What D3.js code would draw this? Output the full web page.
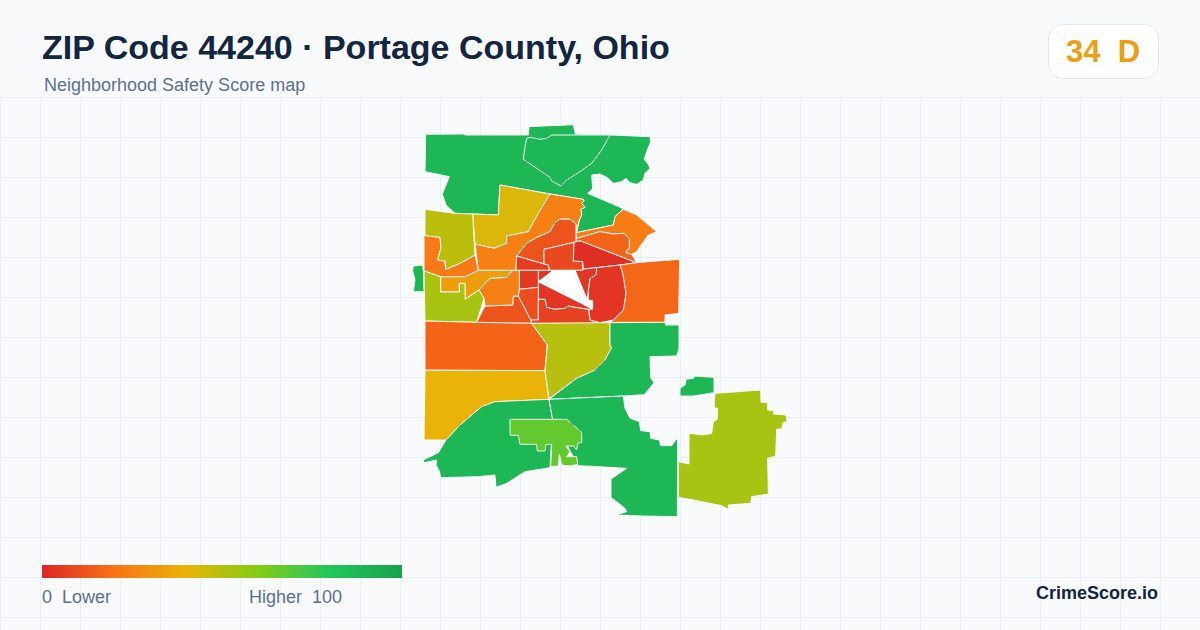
<!DOCTYPE html>
<html><head><meta charset="utf-8">
<script src="https://cdn.jsdelivr.net/npm/d3@7/dist/d3.min.js"></script>
<style>html,body{margin:0;padding:0;background:#f8fafc}svg{display:block}text{font-family:"Liberation Sans",Arial,sans-serif;white-space:pre}</style>
</head><body><svg id="c" width="1200" height="630"></svg>
<script>
// Map units: one third of a screen pixel, measured from the map frame.
const northWest=[[47,43],[162,42],[165,45],[355,45],[357,20],[490,14],[496,42],[600,45],[720,50],[722,65],[708,100],[703,118],[716,135],[720,145],[705,160],[700,180],[680,193],[660,188],[648,175],[635,185],[610,190],[595,175],[570,162],[545,165],[548,205],[533,220],[640,266],[615,290],[610,315],[500,338],[508,300],[515,285],[512,268],[525,262],[515,250],[522,243],[520,238],[420,222],[270,195],[265,285],[190,282],[135,280],[108,255],[97,222],[118,170],[45,155]];
const northInner=[[350,55],[360,52],[390,58],[410,55],[425,45],[600,45],[575,90],[545,130],[510,155],[470,180],[453,198],[425,183],[420,172],[340,118],[345,80]];
const topYellow=[[270,195],[420,222],[385,280],[355,335],[290,348],[290,370],[252,385],[195,372],[188,282],[265,285]];
const topOrange=[[420,222],[520,238],[522,243],[515,250],[525,262],[512,268],[515,285],[508,300],[498,338],[498,312],[480,298],[450,297],[435,308],[420,335],[385,350],[350,370],[320,408],[318,451],[305,451],[205,451],[195,372],[252,385],[290,370],[290,348],[355,335],[385,280]];
const centerNorth=[[450,297],[480,298],[498,312],[498,365],[492,367],[402,388],[402,432],[320,408],[350,370],[385,350],[420,335],[435,308]];
const centerBlock=[[402,388],[492,367],[490,423],[518,425],[518,451],[418,451],[415,435],[402,432]];
const redWedge=[[492,367],[510,362],[680,428],[630,435],[560,443],[520,447],[518,425],[490,423]];
const centerWest=[[320,408],[402,432],[415,435],[418,451],[318,451]];
const eastFringe=[[640,268],[680,285],[710,310],[740,335],[715,345],[700,365],[680,395],[665,403],[645,397],[658,385],[658,355],[640,340],[610,342],[570,335],[500,355],[498,338],[610,315],[615,290]];
const eastInner=[[500,355],[570,335],[610,342],[640,340],[658,355],[658,385],[645,397],[665,403],[680,428],[510,362],[498,365]];
const eastOrange=[[680,428],[630,435],[638,460],[648,520],[640,570],[610,600],[600,607],[765,607],[765,585],[806,580],[809,418],[715,425]];
const eastRed=[[560,443],[630,435],[638,460],[648,520],[640,570],[610,600],[570,608],[540,600],[535,560],[535,510],[540,475],[558,465]];
const holeRing=[[495,451],[518,451],[520,447],[560,443],[558,465],[540,475],[535,510],[532,540],[515,500]];
const holeWest=[[385,451],[430,451],[402,478],[385,485]];
const holeSouth=[[385,485],[515,550],[548,568],[535,568],[495,562],[475,558],[465,565],[435,568],[410,562],[405,538],[385,538]];
const noData=[[385,485],[430,451],[495,451],[515,500],[532,540],[548,542],[548,568],[515,550]];
const boxWest=[[328,451],[385,451],[385,502],[328,508]];
const boxSouth=[[328,508],[385,502],[385,600],[362,600],[325,528]];
const lowerCenter=[[385,538],[405,538],[410,562],[435,568],[465,565],[475,558],[495,562],[535,568],[540,600],[570,610],[365,610],[362,600],[385,600]];
const southWestBand=[[225,558],[308,555],[310,528],[325,528],[362,600],[365,610],[200,607]];
const midOrange=[[207,510],[240,475],[290,472],[308,451],[328,451],[328,508],[325,528],[310,528],[308,555],[225,558],[222,535]];
const thinStrip=[[92,470],[165,470],[205,451],[308,451],[290,472],[240,475],[207,510],[165,538],[165,490],[148,490],[148,516],[92,516]];
const westLime=[[42,452],[92,470],[92,516],[148,516],[148,490],[165,490],[165,538],[207,510],[222,535],[200,607],[45,603]];
const westOrange=[[42,345],[90,352],[93,385],[82,420],[105,423],[107,448],[150,430],[195,405],[205,451],[165,470],[92,470],[42,452]];
const westOlive=[[45,268],[135,280],[188,282],[195,405],[150,430],[107,448],[105,423],[82,420],[93,385],[90,352],[45,347]];
const westSliver=[[10,438],[38,435],[40,452],[42,515],[10,515],[15,480],[8,452]];
const rowOrange=[[45,603],[200,607],[365,610],[412,675],[405,752],[45,750]];
const rowYellow=[[45,751],[405,752],[417,838],[255,845],[215,860],[150,915],[108,960],[42,960]];
const midOlive=[[365,610],[600,608],[600,675],[605,683],[585,720],[555,750],[500,775],[417,836],[405,752],[412,675]];
const midGreen=[[600,608],[765,607],[767,615],[807,615],[807,685],[800,708],[720,710],[722,775],[732,788],[703,824],[640,828],[417,838],[500,775],[555,750],[585,720],[605,683],[600,675]];
const southWest=[[417,838],[428,898],[420,1043],[345,1055],[290,1090],[258,1102],[255,1065],[205,1070],[92,1073],[88,1053],[78,1035],[80,1020],[42,1028],[40,1020],[85,998],[108,960],[150,915],[215,860],[255,845]];
const southEast=[[417,838],[640,828],[645,865],[660,895],[688,905],[692,932],[720,935],[722,955],[748,960],[752,977],[785,977],[803,953],[802,1190],[700,1188],[618,1185],[650,1175],[645,1165],[603,1132],[603,1077],[650,1045],[565,1040],[505,1037],[428,898]];
const southLime=[[300,898],[470,898],[515,937],[515,967],[503,970],[500,990],[490,978],[468,978],[480,995],[470,1010],[500,1010],[503,1033],[480,1038],[455,1035],[448,1002],[445,1038],[422,1040],[425,973],[408,973],[405,993],[382,993],[380,973],[330,973],[325,947],[300,945]];
const farEast=[[915,820],[1052,810],[1053,847],[1073,848],[1073,870],[1090,872],[1090,882],[1128,885],[1132,905],[1120,907],[1115,927],[1100,927],[1097,1008],[1073,1015],[1075,1122],[1025,1130],[1022,1150],[955,1155],[955,1168],[935,1157],[850,1140],[805,1132],[805,1025],[837,1032],[837,940],[880,945],[905,940],[910,905],[922,898],[922,865],[912,863]];
const farIsland=[[810,805],[825,795],[828,778],[850,775],[855,768],[880,770],[912,772],[912,818],[850,828],[810,828]];

const outlines=[northWest,northInner,topYellow,topOrange,centerNorth,centerBlock,redWedge,centerWest,eastFringe,eastInner,eastOrange,eastRed,holeRing,holeWest,holeSouth,boxWest,boxSouth,lowerCenter,southWestBand,midOrange,thinStrip,westLime,westOrange,westOlive,westSliver,rowOrange,rowYellow,midOlive,midGreen,southWest,southEast,southLime,farEast,farIsland];
const scores=[88,88,43,24,12,9,2,6,23,16,17,4,4,4,4,5,10,7,12,24,33,53,22,49,88,16,40,50,88,88,88,67,53,88];

const scaleStops=[0,20,40,60,80,100];
const scaleColors=["#dc2626","#f97316","#eab308","#84cc16","#22c55e","#16a34a"];
const titleText="ZIP Code 44240 · Portage County, Ohio";
const subtitleText="Neighborhood Safety Score map";
const badgeText="34  D";
const legendLow="0  Lower";
const legendHigh="Higher  100";
const brandText="CrimeScore.io";

const svg=d3.select("#c");
const W=1200,H=630;
svg.append("rect").attr("width",W).attr("height",H).attr("fill","#f8fafc");

// grid
const grid=svg.append("g").attr("stroke","#e6eff4").attr("stroke-width",1);
grid.selectAll("line.v").data(d3.range(0,W,40)).join("line").attr("class","v")
  .attr("x1",d=>d+.5).attr("x2",d=>d+.5).attr("y1",97).attr("y2",H);
grid.selectAll("line.h").data(d3.range(97,H,40)).join("line").attr("class","h")
  .attr("y1",d=>d+.5).attr("y2",d=>d+.5).attr("x1",0).attr("x2",W);

// map
const x=d3.scaleLinear().domain([0,1140]).range([410,790]);
const y=d3.scaleLinear().domain([0,1200]).range([120,520]);
const color=d3.scaleLinear().domain(scaleStops).range(scaleColors);
const line=d3.line().x(d=>x(d[0])).y(d=>y(d[1])).curve(d3.curveLinearClosed);
const map=svg.append("g").attr("stroke","#fff").attr("stroke-width",0.9).attr("stroke-linejoin","round");
map.selectAll("path").data(outlines).join("path").attr("d",line).attr("fill",(d,i)=>color(scores[i]));
map.append("path").datum(noData).attr("d",line).attr("fill","#fff");

// header
svg.append("text").attr("x",42).attr("y",59).attr("font-size",34).attr("font-weight",700).attr("fill","#12263f").text(titleText);
svg.append("text").attr("x",44).attr("y",91).attr("font-size",18).attr("fill","#5b718f").text(subtitleText);
svg.append("rect").attr("x",1048.5).attr("y",24.5).attr("width",110).attr("height",54).attr("rx",14).attr("fill","#fff").attr("stroke","#e2e8f0");
svg.append("text").attr("x",1103).attr("y",62).attr("text-anchor","middle").attr("font-size",31).attr("font-weight",700).attr("fill","#eaa010").text(badgeText);

// legend
const grad=svg.append("defs").append("linearGradient").attr("id","lg");
grad.selectAll("stop").data(scaleStops).join("stop").attr("offset",d=>d+"%").attr("stop-color",d=>color(d));
const lx=d3.scaleLinear().domain([0,100]).range([42,402]);
svg.append("rect").attr("x",lx(0)).attr("y",565).attr("width",lx(100)-lx(0)).attr("height",13).attr("fill","url(#lg)");
svg.append("text").attr("x",42).attr("y",603).attr("font-size",18).attr("fill","#5b718f").text(legendLow);
svg.append("text").attr("x",342).attr("y",603).attr("text-anchor","end").attr("font-size",18).attr("fill","#5b718f").text(legendHigh);
svg.append("text").attr("x",1158).attr("y",599).attr("text-anchor","end").attr("font-size",18).attr("font-weight",700).attr("fill","#12263f").text(brandText);
</script></body></html>
